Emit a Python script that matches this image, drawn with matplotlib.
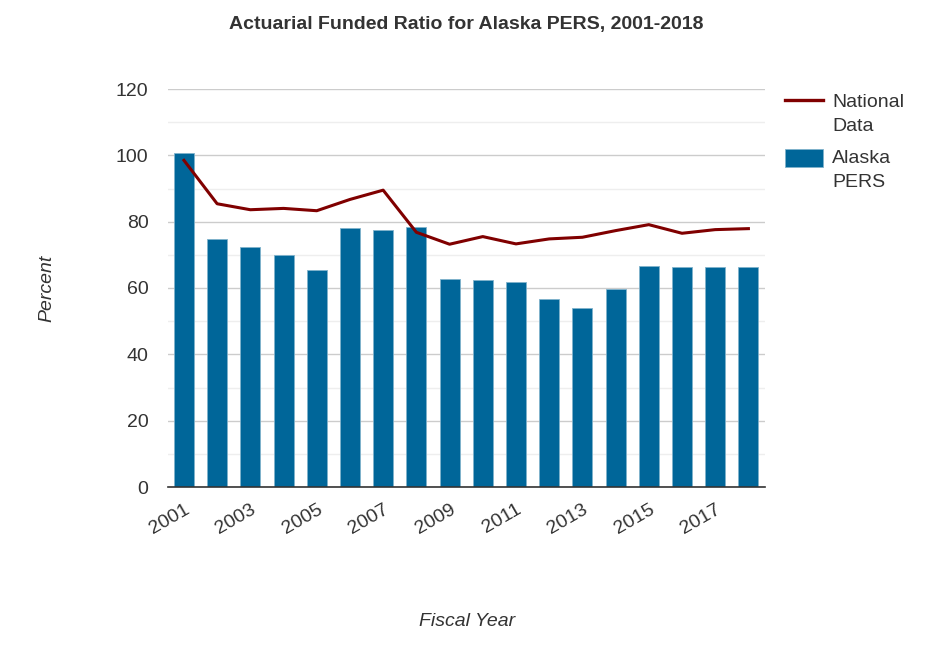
import matplotlib
matplotlib.use("Agg")
import matplotlib.pyplot as plt
from matplotlib.lines import Line2D
from matplotlib.patches import Patch
from matplotlib.legend_handler import HandlerLine2D, HandlerPatch
from matplotlib.transforms import Affine2D

years = list(range(2001, 2019))
alaska_pers = [100.7, 74.8, 72.5, 69.8, 65.3, 78.0, 77.5, 78.4, 62.6, 62.3, 61.8,
               56.8, 54.1, 59.6, 66.7, 66.3, 66.3, 66.3]
national = [98.5, 85.4, 83.6, 84.0, 83.3, 86.7, 89.5, 76.8, 73.2, 75.5, 73.3,
            74.8, 75.3, 77.3, 79.1, 76.5, 77.6, 77.9]
xtick_years = [2001, 2003, 2005, 2007, 2009, 2011, 2013, 2015, 2017]
yticks = [0, 20, 40, 60, 80, 100, 120]

plt.rcParams['font.family'] = ['Liberation Sans', 'DejaVu Sans']

fig = plt.figure(figsize=(9.38, 6.45), dpi=100)
ax = fig.add_axes([168/938, 1-487/645, (765-168)/938, (487-89)/645])

bar_color = '#006699'
line_color = '#800000'

ax.bar(years, alaska_pers, width=0.6, color=bar_color, edgecolor='#7fb2cc',
       linewidth=0.6, zorder=2)
ax.plot(years, national, color=line_color, linewidth=2.2, zorder=3)

ax.set_xlim(2000.52, 2018.5)
ax.set_ylim(0, 120)
ax.set_yticks(yticks)
ax.set_yticks(range(10, 120, 20), minor=True)
ax.grid(axis='y', which='major', color='#cccccc', linewidth=1.0, zorder=0)
ax.grid(axis='y', which='minor', color='#eeeeee', linewidth=1.0, zorder=0)
ax.set_axisbelow(True)
ax.tick_params(axis='y', which='both', length=0, labelsize=14, colors='#333333', pad=14)
ax.set_xticks(xtick_years)
ax.set_xticklabels([str(y) for y in xtick_years], rotation=30, ha='right',
                   rotation_mode='anchor')
ax.tick_params(axis='x', length=0, labelsize=14, colors='#333333', pad=10)
for s in ['left', 'right', 'top']:
    ax.spines[s].set_visible(False)
ax.spines['bottom'].set_color('#333333')
ax.spines['bottom'].set_linewidth(1.2)

fig.text(466/938, 1-24/645, 'Actuarial Funded Ratio for Alaska PERS, 2001-2018',
         ha='center', va='center', fontsize=14, fontweight='bold', color='#333333')
fig.text(47/938, 1-288/645, 'Percent', rotation=90, ha='center', va='center',
         fontsize=14, style='italic', color='#333333')
fig.text(467/938, 1-622/645, 'Fiscal Year', ha='center', va='center',
         fontsize=14, style='italic', color='#333333')


def shifted(cls, dy):
    class Shifted(cls):
        def create_artists(self, legend, orig_handle, xdescent, ydescent,
                           width, height, fontsize, trans):
            t2 = Affine2D().translate(0, dy) + trans
            return super().create_artists(legend, orig_handle, xdescent, ydescent,
                                          width, height, fontsize, t2)
    return Shifted()


h_line = Line2D([0], [0], color=line_color, linewidth=2.4)
h_bar = Patch(facecolor=bar_color, edgecolor='#7fb2cc', linewidth=0.6)
leg = fig.legend([h_line, h_bar], ['National\nData', 'Alaska\nPERS'], loc='upper left',
                 bbox_to_anchor=(767/938, 1-76/645), frameon=False, fontsize=14,
                 handlelength=2.0, handleheight=1.0, handletextpad=0.45,
                 labelspacing=0.8, labelcolor='#333333',
                 handler_map={h_line: shifted(HandlerLine2D, 9.0),
                              h_bar: shifted(HandlerPatch, 9.0)})
for t in leg.get_texts():
    t.set_linespacing(1.55)

fig.savefig('out.png', dpi=100)
